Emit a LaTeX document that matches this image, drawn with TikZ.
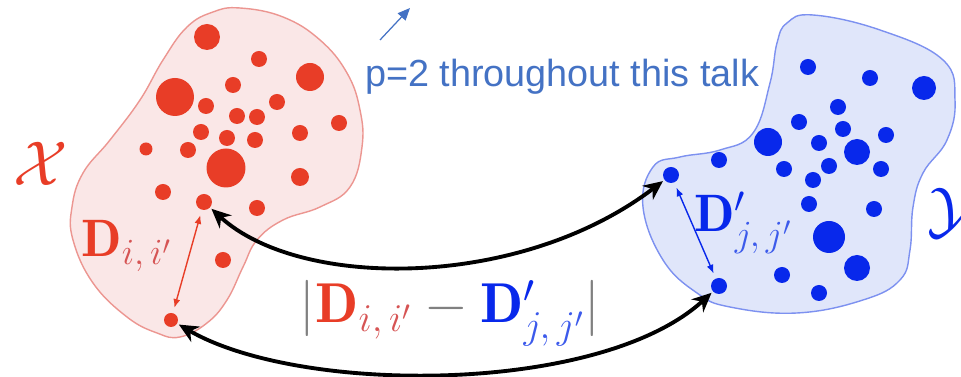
\RequirePackage{fix-cm}
\documentclass[tikz,border=0pt]{standalone}
\usepackage{amsmath,amssymb}
\usepackage{fontspec}
\newfontfamily\talkfont{Liberation Sans}
\usepackage{xcolor}
\usepackage{tikz}
\usetikzlibrary{arrows.meta}

\definecolor{xdot}{RGB}{232,61,39}
\definecolor{xfill}{RGB}{250,231,231}
\definecolor{xedge}{RGB}{236,150,145}
\definecolor{xsub}{RGB}{214,84,84}
\definecolor{ydot}{RGB}{8,40,235}
\definecolor{yfill}{RGB}{224,230,250}
\definecolor{yedge}{RGB}{125,145,240}
\definecolor{ysub}{RGB}{60,90,235}
\definecolor{talkblue}{RGB}{68,114,196}

\begin{document}
\begin{tikzpicture}[
  x=0.02cm, y=-0.02cm,
  rdot/.style={circle, fill=xdot, inner sep=0pt, minimum size=#1*0.4mm},
  bdot/.style={circle, fill=ydot, inner sep=0pt, minimum size=#1*0.4mm},
  pair/.style={black, line width=2.2pt, {Stealth[length=11pt,width=10pt]}-{Stealth[length=11pt,width=10pt]}, shorten <=1pt, shorten >=1pt},
  dist/.style={line width=0.8pt, {Latex[length=5pt,width=4pt]}-{Latex[length=5pt,width=4pt]}, shorten <=3pt, shorten >=3pt},
  lbl/.style={inner sep=0pt, font=\fontsize{30}{33}\selectfont}
]
\useasboundingbox (0,0) rectangle (961,377);

% the two spaces
\draw[xedge, fill=xfill, line width=0.8pt] plot[smooth cycle, tension=0.7] coordinates {
  (240,8) (283,17) (320,40) (347,73) (360,110) (362,147) (350,187) (320,207)
  (283,220) (257,240) (243,267) (227,300) (207,323) (180,337) (157,333)
  (127,317) (93,283) (73,240) (72,207) (83,173) (110,140) (140,100) (163,60)
  (187,27) (213,12)};
\draw[yedge, fill=yfill, line width=0.8pt] plot[smooth cycle, tension=0.7] coordinates {
  (813,15) (880,30) (943,60) (955,100) (947,140) (923,173) (913,207) (910,250)
  (900,280) (863,300) (797,313) (730,307) (697,293) (663,260) (643,207)
  (653,167) (680,157) (720,150) (753,133) (770,83) (777,43) (787,23)};

% points of X
\foreach \x/\y/\r [count=\i] in {207/37/13, 259/59/8, 310/77/14, 175/97/19,
    233/85/8, 206/106/8, 277/102/8, 237/116/8, 257/117/8, 339/123/8,
    201/132/8, 227/138/8, 255/140/8, 300/133/8, 146/149/6.5, 188/150/8,
    226/168/19.5, 300/177/9, 163/192/8, 257/208/8, 223/260/8}
  \node[rdot=\r] (x\i) at (\x,\y) {};
\node[rdot=8] (xi) at (204,202) {};
\node[rdot=7] (xip) at (171,320) {};

% points of Y
\foreach \x/\y/\r [count=\i] in {808/67/8, 870/78/8, 924/88/12, 838/107/8,
    799/122/8, 843/129/8, 886/135/8, 768/142/14, 819/143/8, 857/152/13,
    719/160/8, 829/166/8, 784/169/8, 881/169/8, 813/180/8, 809/204/8,
    874/209/8, 829/237/16, 857/268/13, 782/275/8, 819/293/8}
  \node[bdot=\r] (y\i) at (\x,\y) {};
\node[bdot=8] (yj) at (671,175) {};
\node[bdot=8] (yjp) at (719,286) {};

% labels
\node[lbl, text=xdot, font=\fontsize{36}{40}\selectfont] (Xname) at (41,164) {$\mathcal{X}$};
\node[lbl, text=ydot, font=\fontsize{36}{40}\selectfont, anchor=west] (Yname) at (927,213) {$\mathcal{Y}$};
\node[lbl, anchor=base west] (Dx) at (81,257) {$\color{xdot}\mathbf{D}_{\color{xsub}i,\,i'}$};
\node[lbl, anchor=base west] (Dy) at (694,232) {$\color{ydot}\mathbf{D}'_{\color{ysub}j,\,j'}$};
\node[lbl, font=\fontsize{32}{35}\selectfont, text=gray, anchor=base] (gap) at (450,323)
  {$\lvert{\color{xdot}\mathbf{D}_{\color{xsub}i,\,i'}} - {\color{ydot}\mathbf{D}'_{\color{ysub}j,\,j'}}\rvert$};
\node[inner sep=0pt, anchor=base west, text=talkblue, font=\talkfont\fontsize{21.5}{24}\selectfont] (note) at (365,87) {p=2 throughout this talk};

% distances and pairings
\draw[dist, xdot] (xi) -- (xip);
\draw[dist, ydot] (yj) -- (yjp);
\draw[pair] (xi) .. controls (300,290) and (520,290) .. (yj);
\draw[pair] (xip) .. controls (300,395) and (600,395) .. (yjp);

\coordinate (ptail) at (380,40);
\coordinate (phead) at (410,8);
\draw[talkblue, line width=0.7pt, -{Triangle[length=7pt,width=6pt]}] (ptail) -- (phead);
\end{tikzpicture}
\end{document}
